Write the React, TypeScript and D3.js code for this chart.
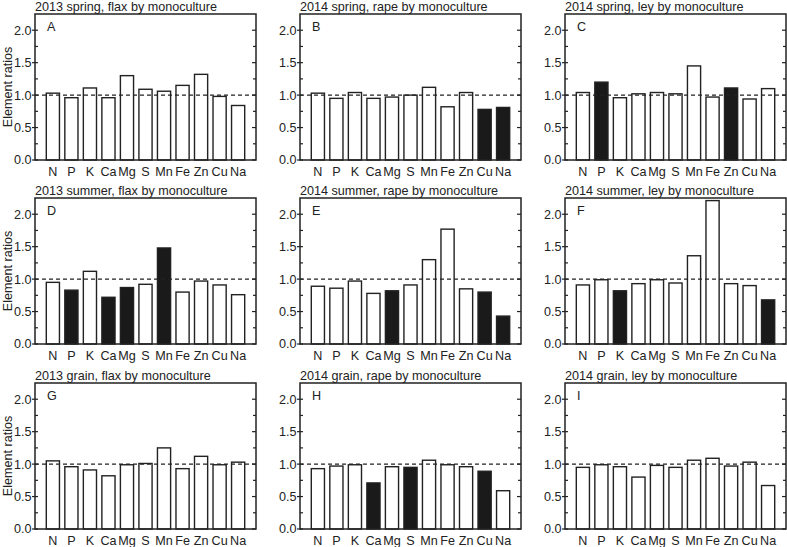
import React, { useEffect } from "react";
import * as d3 from "d3";

// elements on the x axis of every panel
const elements = ["N", "P", "K", "Ca", "Mg", "S", "Mn", "Fe", "Zn", "Cu", "Na"];

const titles = [
  "2013 spring, flax by monoculture",
  "2014 spring, rape by monoculture",
  "2014 spring, ley by monoculture",
  "2013 summer, flax by monoculture",
  "2014 summer, rape by monoculture",
  "2014 summer, ley by monoculture",
  "2013 grain, flax by monoculture",
  "2014 grain, rape by monoculture",
  "2014 grain, ley by monoculture",
];
const letters = ["A", "B", "C", "D", "E", "F", "G", "H", "I"];

// element ratios, one array per panel (same order as elements)
const ratiosA = [1.03, 0.96, 1.11, 0.96, 1.3, 1.09, 1.06, 1.15, 1.32, 0.98, 0.84];
const ratiosB = [1.03, 0.95, 1.04, 0.95, 0.97, 1.0, 1.12, 0.82, 1.04, 0.78, 0.81];
const ratiosC = [1.04, 1.2, 0.96, 1.02, 1.04, 1.02, 1.45, 0.97, 1.11, 0.94, 1.1];
const ratiosD = [0.95, 0.83, 1.12, 0.72, 0.87, 0.92, 1.48, 0.8, 0.97, 0.91, 0.76];
const ratiosE = [0.89, 0.86, 0.97, 0.78, 0.82, 0.91, 1.3, 1.77, 0.85, 0.8, 0.43];
const ratiosF = [0.91, 0.99, 0.82, 0.93, 0.99, 0.94, 1.36, 2.21, 0.93, 0.9, 0.68];
const ratiosG = [1.05, 0.96, 0.91, 0.82, 0.99, 1.01, 1.25, 0.93, 1.12, 0.99, 1.03];
const ratiosH = [0.93, 0.97, 0.99, 0.71, 0.96, 0.95, 1.06, 0.99, 0.96, 0.89, 0.59];
const ratiosI = [0.95, 0.99, 0.96, 0.8, 0.98, 0.95, 1.06, 1.09, 0.97, 1.03, 0.67];

// significantly different elements (drawn filled)
const sigA: string[] = [];
const sigB = ["Cu", "Na"];
const sigC = ["P", "Zn"];
const sigD = ["P", "Ca", "Mg", "Mn"];
const sigE = ["Mg", "Cu", "Na"];
const sigF = ["K", "Na"];
const sigG: string[] = [];
const sigH = ["Ca", "S", "Cu"];
const sigI: string[] = [];

const yTicks = [0, 0.5, 1.0, 1.5, 2.0];
const yMinorTicks = [0.25, 0.75, 1.25, 1.75];

const allRatios = [ratiosA, ratiosB, ratiosC, ratiosD, ratiosE, ratiosF, ratiosG, ratiosH, ratiosI];
const allSig = [sigA, sigB, sigC, sigD, sigE, sigF, sigG, sigH, sigI];

const W = 787;
const H = 547;
const colLeft = [35, 300, 565];
const rowTop = [14, 198, 383];
const pw = 221;
const ph = 146;
const ink = "#222";
const fs = 12.6;
const font = "'Liberation Sans', Arial, sans-serif";

function Panel({ i }: { i: number }) {
  const left = colLeft[i % 3];
  const top = rowTop[Math.floor(i / 3)];
  const x = d3.scaleBand<string>().domain(elements).range([0, pw]).paddingInner(0.29).paddingOuter(0.61);
  const y = d3.scaleLinear().domain([0, 2.25]).range([ph, 0]);
  const values = allRatios[i];
  const sig = allSig[i];

  return (
    <g transform={`translate(${left},${top})`}>
      <text x={0} y={-3.5} fontSize={fs} fill={ink}>
        {titles[i]}
      </text>
      {values.map((v, k) => {
        const el = elements[k];
        const filled = sig.includes(el);
        return (
          <rect
            key={el}
            x={x(el)}
            y={y(v)}
            width={x.bandwidth()}
            height={y(0) - y(v)}
            fill={filled ? "#1a1a1a" : "#fff"}
            stroke={ink}
            strokeWidth={1.4}
          />
        );
      })}
      <line x1={0} x2={pw} y1={y(1)} y2={y(1)} stroke={ink} strokeWidth={1.2} strokeDasharray="4,3" />
      <rect x={0} y={0} width={pw} height={ph} fill="none" stroke={ink} strokeWidth={1.5} />
      {yTicks.map((t) => (
        <g key={t}>
          <line x1={-3} x2={3} y1={y(t)} y2={y(t)} stroke={ink} strokeWidth={1.2} />
          <line x1={pw - 4} x2={pw} y1={y(t)} y2={y(t)} stroke={ink} strokeWidth={1.2} />
          <text x={-3.5} y={y(t)} dy="0.35em" textAnchor="end" fontSize={fs} fill={ink}>
            {t.toFixed(1)}
          </text>
        </g>
      ))}
      {yMinorTicks.map((t) => (
        <g key={t}>
          <line x1={0} x2={3} y1={y(t)} y2={y(t)} stroke={ink} strokeWidth={1.2} />
          <line x1={pw - 3} x2={pw} y1={y(t)} y2={y(t)} stroke={ink} strokeWidth={1.2} />
        </g>
      ))}
      {elements.map((el) => (
        <text
          key={el}
          x={(x(el) ?? 0) + x.bandwidth() / 2}
          y={ph + 15.5}
          textAnchor="middle"
          fontSize={fs}
          fill={ink}
        >
          {el}
        </text>
      ))}
      <text x={12} y={17} fontSize={fs} fill={ink}>
        {letters[i]}
      </text>
      {i % 3 === 0 && (
        <text
          transform={`translate(${-23.5},${ph / 2}) rotate(-90)`}
          textAnchor="middle"
          fontSize={fs}
          fill={ink}
        >
          Element ratios
        </text>
      )}
    </g>
  );
}

export default function App() {
  useEffect(() => {
    document.body.style.margin = "0";
  }, []);
  return (
    <svg
      width={W}
      height={H}
      style={{ position: "absolute", left: 0, top: 0, background: "#fff", fontFamily: font }}
    >
      <rect width={W} height={H} fill="#fff" />
      {titles.map((_, i) => (
        <Panel key={i} i={i} />
      ))}
    </svg>
  );
}
